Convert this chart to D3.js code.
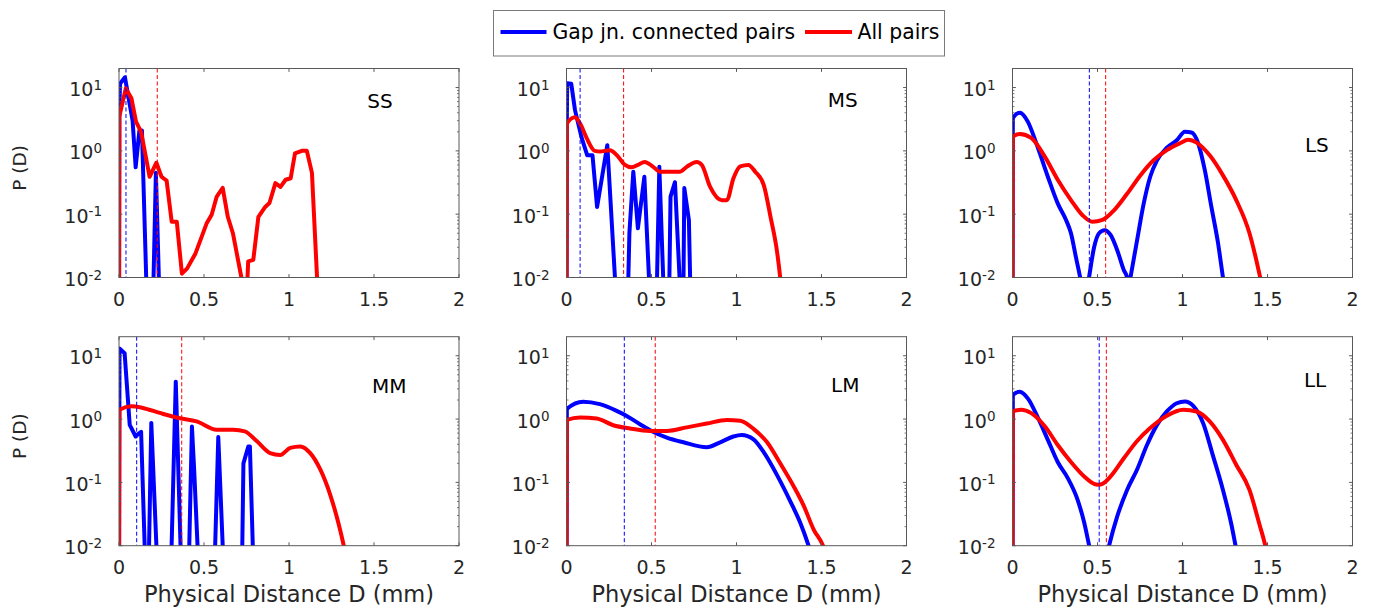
<!DOCTYPE html>
<html>
<head>
<meta charset="utf-8">
<script src="https://cdn.jsdelivr.net/npm/d3@7"></script>
<style>
  body { margin: 0; background: #fff; }
  svg { font-family: "DejaVu Sans", sans-serif; }
</style>
</head>
<body>
<div id="chart"></div>
<script>
// tick values and labels
const xTicks = [0, 0.5, 1, 1.5, 2];
const yDecades = [-2, -1, 0, 1];
const seriesNames = ["Gap jn. connected pairs", "All pairs"];
const panelNames = ["SS", "MS", "LS", "MM", "LM", "LL"];

// P(D) curves, [distance mm, density]; 0 = nothing there (below the axis)
const ssGap = [[0, 0], [0.002, 4], [0.006, 11.5], [0.035, 14.5], [0.08, 3], [0.098, 0.55], [0.12, 2.1], [0.135, 2.1], [0.16, 0.01], [0.17, 0], [0.195, 0], [0.217, 0.45], [0.245, 0]];
const ssAll = [[0, 0], [0.002, 3.5], [0.04, 9.7], [0.073, 6.8], [0.10, 2.9], [0.13, 2.0], [0.18, 0.39], [0.22, 0.65], [0.25, 0.39], [0.28, 0.34], [0.31, 0.076], [0.34, 0.076], [0.37, 0.0115], [0.40, 0.0138], [0.45, 0.024], [0.515, 0.071], [0.545, 0.098], [0.575, 0.19], [0.61, 0.26], [0.64, 0.091], [0.67, 0.05], [0.72, 0.01], [0.74, 0], [0.76, 0.018], [0.79, 0.019], [0.82, 0.091], [0.86, 0.13], [0.885, 0.15], [0.92, 0.31], [0.95, 0.27], [0.98, 0.35], [1.01, 0.37], [1.035, 0.91], [1.075, 1.0], [1.105, 1.0], [1.135, 0.45], [1.165, 0.01], [1.18, 0]];

const msGap = [[0, 0], [0.002, 2.9], [0.004, 11.7], [0.028, 11.5], [0.05, 4.4], [0.088, 1.65], [0.122, 0.85], [0.153, 0.85], [0.18, 0.13], [0.24, 1.23], [0.285, 0.01], [0.30, 0], [0.355, 0], [0.37, 0.05], [0.393, 0.47], [0.42, 0.06], [0.458, 0.39], [0.485, 0.01], [0.50, 0], [0.525, 0], [0.546, 0.56], [0.57, 0.008], [0.59, 0], [0.60, 0], [0.612, 0.19], [0.638, 0.32], [0.665, 0.01], [0.675, 0], [0.685, 0], [0.693, 0.26], [0.72, 0.081], [0.735, 0]];
const msAll = [[0, 0], [0.002, 2.7], [0.05, 3.4], [0.08, 2.7], [0.118, 1.6], [0.167, 1.0], [0.196, 0.98], [0.255, 1.02], [0.295, 0.86], [0.344, 0.6], [0.383, 0.55], [0.42, 0.6], [0.46, 0.67], [0.51, 0.56], [0.55, 0.47], [0.61, 0.47], [0.668, 0.47], [0.707, 0.56], [0.766, 0.67], [0.796, 0.6], [0.845, 0.27], [0.914, 0.166], [0.943, 0.166], [0.982, 0.37], [1.022, 0.57], [1.07, 0.6], [1.11, 0.47], [1.16, 0.29], [1.20, 0.091], [1.24, 0.024], [1.257, 0.01], [1.28, 0.002]];

const lsGap = [[0, 0], [0.002, 3.3], [0.043, 4.0], [0.09, 2.9], [0.14, 1.32], [0.208, 0.39], [0.266, 0.148], [0.315, 0.081], [0.344, 0.05], [0.373, 0.021], [0.398, 0.01], [0.425, 0.004], [0.45, 0.01], [0.48, 0.03], [0.509, 0.05], [0.542, 0.056], [0.577, 0.047], [0.616, 0.027], [0.655, 0.013], [0.674, 0.01], [0.684, 0.007], [0.694, 0.01], [0.733, 0.039], [0.772, 0.148], [0.81, 0.39], [0.85, 0.71], [0.908, 1.12], [0.966, 1.47], [1.014, 2.0], [1.053, 1.95], [1.092, 1.32], [1.131, 0.5], [1.17, 0.13], [1.209, 0.035], [1.238, 0.01], [1.26, 0.004]];
const lsAll = [[0, 0], [0.002, 1.67], [0.043, 1.85], [0.11, 1.6], [0.19, 0.81], [0.266, 0.35], [0.344, 0.167], [0.412, 0.096], [0.47, 0.076], [0.529, 0.081], [0.597, 0.115], [0.674, 0.21], [0.752, 0.41], [0.83, 0.71], [0.908, 1.03], [0.985, 1.32], [1.034, 1.5], [1.083, 1.35], [1.16, 0.85], [1.238, 0.41], [1.316, 0.167], [1.394, 0.05], [1.452, 0.0115], [1.48, 0.005]];

const mmGap = [[0, 0], [0.003, 13], [0.033, 11], [0.063, 0.81], [0.098, 0.53], [0.112, 0.58], [0.13, 0.63], [0.151, 0.01], [0.16, 0], [0.17, 0], [0.19, 0.87], [0.22, 0.01], [0.23, 0], [0.30, 0], [0.334, 3.9], [0.362, 0.01], [0.37, 0], [0.405, 0], [0.429, 0.76], [0.442, 0.16], [0.462, 0.01], [0.47, 0], [0.555, 0], [0.584, 0.52], [0.61, 0.01], [0.62, 0], [0.72, 0], [0.732, 0.2], [0.761, 0.37], [0.77, 0.37], [0.787, 0.01], [0.795, 0]];
const mmAll = [[0, 0], [0.002, 1.4], [0.073, 1.6], [0.14, 1.5], [0.24, 1.25], [0.358, 1.03], [0.456, 0.92], [0.574, 0.68], [0.672, 0.68], [0.74, 0.64], [0.81, 0.45], [0.889, 0.29], [0.948, 0.27], [1.007, 0.35], [1.066, 0.37], [1.125, 0.29], [1.184, 0.16], [1.243, 0.063], [1.292, 0.022], [1.322, 0.01], [1.35, 0.004]];

const lmGap = [[0, 0], [0.002, 1.44], [0.098, 1.88], [0.196, 1.72], [0.295, 1.35], [0.344, 1.16], [0.432, 0.83], [0.5, 0.65], [0.59, 0.51], [0.688, 0.43], [0.825, 0.36], [0.904, 0.43], [0.982, 0.53], [1.03, 0.56], [1.1, 0.48], [1.16, 0.3], [1.24, 0.128], [1.32, 0.048], [1.375, 0.023], [1.424, 0.01], [1.45, 0.006]];
const lmAll = [[0, 0], [0.002, 0.97], [0.08, 1.06], [0.177, 1.02], [0.275, 0.8], [0.373, 0.71], [0.49, 0.65], [0.59, 0.65], [0.707, 0.74], [0.825, 0.85], [0.943, 0.97], [1.022, 0.94], [1.1, 0.7], [1.18, 0.43], [1.257, 0.2], [1.336, 0.087], [1.395, 0.043], [1.454, 0.018], [1.509, 0.01], [1.53, 0.007]];

const llGap = [[0, 0], [0.002, 2.4], [0.043, 2.7], [0.091, 2.1], [0.15, 1.04], [0.208, 0.47], [0.266, 0.21], [0.325, 0.117], [0.383, 0.053], [0.422, 0.023], [0.451, 0.01], [0.51, 0.002], [0.568, 0.01], [0.616, 0.029], [0.674, 0.076], [0.733, 0.16], [0.791, 0.39], [0.85, 0.81], [0.908, 1.32], [0.966, 1.78], [1.014, 1.9], [1.063, 1.62], [1.121, 0.87], [1.18, 0.26], [1.238, 0.076], [1.287, 0.022], [1.312, 0.01], [1.34, 0.004]];
const llAll = [[0, 0], [0.002, 1.32], [0.052, 1.4], [0.11, 1.24], [0.19, 0.77], [0.266, 0.39], [0.344, 0.21], [0.422, 0.124], [0.48, 0.095], [0.505, 0.092], [0.529, 0.095], [0.577, 0.124], [0.655, 0.24], [0.733, 0.45], [0.81, 0.72], [0.908, 1.13], [1.005, 1.4], [1.083, 1.32], [1.16, 0.92], [1.238, 0.47], [1.316, 0.19], [1.394, 0.076], [1.452, 0.022], [1.487, 0.01], [1.51, 0.005]];

// medians (dashed lines), mm
const medianGap = [0.041, 0.08, 0.452, 0.104, 0.34, 0.51];
const medianAll = [0.225, 0.336, 0.548, 0.369, 0.522, 0.552];

// where the panel name sits, in data units [x, P]
const nameAt = [[1.535, 6.1], [1.625, 6.3], [1.79, 1.24], [1.59, 3.4], [1.64, 3.5], [1.78, 4.2]];

const gapData = [ssGap, msGap, lsGap, mmGap, lmGap, llGap];
const allData = [ssAll, msAll, lsAll, mmAll, lmAll, llAll];
// jagged panels are drawn with straight segments
const smoothGap = [false, false, true, false, true, true];
const smoothAll = [false, true, true, true, true, true];

const blue = "#0000ff", red = "#ff0000";
const textColor = "#262626";
const boxColor = "#595959";

const W = 1376, H = 610;
const colLeft = [119, 566.5, 1012.5];
const rowTop = [68.5, 336.7];
const pw = 340, ph = 209;

const svg = d3.select("#chart").append("svg")
  .attr("width", W).attr("height", H);

const x = d3.scaleLinear().domain([0, 2]).range([0, pw]);
const y = d3.scaleLog().domain([0.01, 20]).range([ph, 0]);
const floorValue = 1e-3; // zeros are drawn one decade under the axis, then clipped

const minorTicks = [];
yDecades.forEach(e => {
  for (let k = 2; k <= 9; k++) {
    const v = k * Math.pow(10, e);
    if (v < 20) minorTicks.push(v);
  }
});

const makeLine = smooth => d3.line()
  .x(d => x(d[0]))
  .y(d => y(Math.max(d[1], floorValue)))
  .curve(smooth ? d3.curveMonotoneX : d3.curveLinear);

panelNames.forEach((name, i) => {
  const col = i % 3, row = Math.floor(i / 3);
  const g = svg.append("g")
    .attr("transform", `translate(${colLeft[col]},${rowTop[row]})`);

  g.append("clipPath").attr("id", "clip" + i)
    .append("rect").attr("x", 0).attr("y", 0).attr("width", pw).attr("height", ph);

  const plot = g.append("g").attr("clip-path", `url(#clip${i})`);

  plot.append("path")
    .datum(gapData[i])
    .attr("fill", "none")
    .attr("stroke", blue)
    .attr("stroke-width", 4)
    .attr("stroke-linejoin", "round")
    .attr("d", makeLine(smoothGap[i]));

  plot.append("path")
    .datum(allData[i])
    .attr("fill", "none")
    .attr("stroke", red)
    .attr("stroke-width", 4)
    .attr("stroke-linejoin", "round")
    .attr("d", makeLine(smoothAll[i]));

  // medians
  [[medianGap[i], blue], [medianAll[i], red]].forEach(([m, c]) => {
    plot.append("line")
      .attr("x1", x(m)).attr("x2", x(m))
      .attr("y1", 0).attr("y2", ph)
      .attr("stroke", c)
      .attr("stroke-width", 1)
      .attr("stroke-dasharray", "4,2.5");
  });

  // box
  g.append("rect")
    .attr("x", 0).attr("y", 0).attr("width", pw).attr("height", ph)
    .attr("fill", "none")
    .attr("stroke", boxColor)
    .attr("stroke-width", 1);

  // ticks, inside on every side
  xTicks.forEach(t => {
    g.append("line").attr("x1", x(t)).attr("x2", x(t)).attr("y1", ph).attr("y2", ph - 3.4)
      .attr("stroke", boxColor);
    g.append("line").attr("x1", x(t)).attr("x2", x(t)).attr("y1", 0).attr("y2", 3.4)
      .attr("stroke", boxColor);
  });
  yDecades.forEach(e => {
    const yy = y(Math.pow(10, e));
    g.append("line").attr("x1", 0).attr("x2", 3.4).attr("y1", yy).attr("y2", yy).attr("stroke", boxColor);
    g.append("line").attr("x1", pw).attr("x2", pw - 3.4).attr("y1", yy).attr("y2", yy).attr("stroke", boxColor);
  });
  minorTicks.forEach(v => {
    const yy = y(v);
    g.append("line").attr("x1", 0).attr("x2", 2).attr("y1", yy).attr("y2", yy).attr("stroke", boxColor).attr("stroke-width", 0.8);
    g.append("line").attr("x1", pw).attr("x2", pw - 2).attr("y1", yy).attr("y2", yy).attr("stroke", boxColor).attr("stroke-width", 0.8);
  });

  // tick labels
  g.selectAll(".xl").data(xTicks).join("text")
    .attr("x", d => x(d))
    .attr("y", ph + 28)
    .attr("text-anchor", "middle")
    .attr("font-size", 19)
    .attr("fill", textColor)
    .text(d => d3.format("")(d));

  yDecades.forEach(e => {
    const t = g.append("text")
      .attr("x", -17)
      .attr("y", y(Math.pow(10, e)) + 8.5)
      .attr("text-anchor", "end")
      .attr("font-size", 19)
      .attr("fill", textColor);
    t.append("tspan").text("10");
    t.append("tspan").attr("dy", -6.5).attr("font-size", 13.5).text(e);
  });

  // panel name
  g.append("text")
    .attr("x", x(nameAt[i][0]))
    .attr("y", y(nameAt[i][1]))
    .attr("dy", "0.36em")
    .attr("text-anchor", "middle")
    .attr("font-size", 20)
    .attr("fill", "#000")
    .text(name);

  if (col === 0) {
    g.append("text")
      .attr("transform", `translate(-100,${ph / 2 - 5}) rotate(-90)`)
      .attr("text-anchor", "middle")
      .attr("dy", "0.36em")
      .attr("font-size", 18.5)
      .attr("fill", textColor)
      .text("P (D)");
  }
  if (row === 1) {
    g.append("text")
      .attr("x", pw / 2)
      .attr("y", ph + 56)
      .attr("text-anchor", "middle")
      .attr("font-size", 22.5)
      .attr("fill", textColor)
      .text("Physical Distance D (mm)");
  }
});

// legend
const legend = svg.append("g").attr("transform", "translate(493.5,10.5)");
legend.append("rect")
  .attr("width", 451).attr("height", 45.5)
  .attr("fill", "#fff")
  .attr("stroke", "#7a7a7a")
  .attr("stroke-width", 1);
const legendX = [[7, 53, 59], [311.5, 358.5, 364]];
seriesNames.forEach((s, k) => {
  const [l0, l1, tx] = legendX[k];
  legend.append("line")
    .attr("x1", l0).attr("x2", l1)
    .attr("y1", 21.5).attr("y2", 21.5)
    .attr("stroke", k === 0 ? blue : red)
    .attr("stroke-width", 4);
  legend.append("text")
    .attr("x", tx).attr("y", 21.5)
    .attr("dy", "0.36em")
    .attr("font-size", 20.4)
    .attr("fill", "#000")
    .text(s);
});
</script>
</body>
</html>
